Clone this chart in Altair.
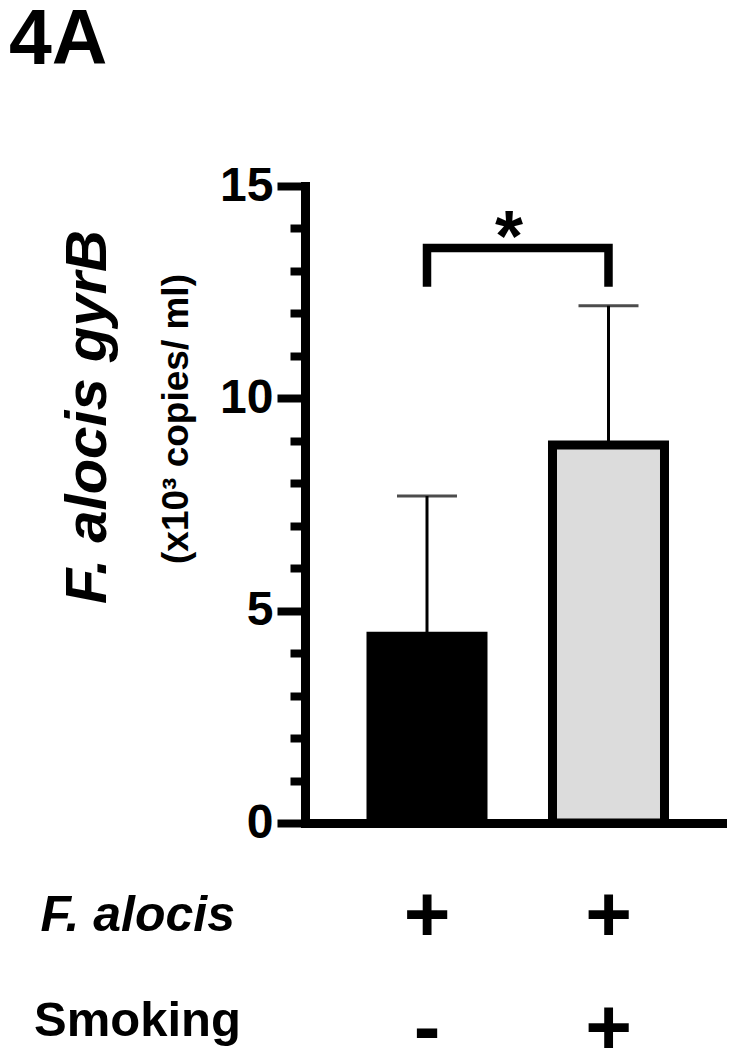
import altair as alt
import pandas as pd

# ---- data ----
groups = ["+|-", "+|+"]          # row 1: F. alocis, row 2: Smoking
means = [4.4, 8.9]
uppers = [7.7, 12.18]
bar_kind = ["no smoking", "smoking"]
bracket_groups = [groups[0], groups[0], groups[1], groups[1]]
bracket_vals = [12.63, 13.54, 13.54, 12.63]
bracket_order = [0, 1, 2, 3]
sig_text = ["*"]
y_tick_values = list(range(0, 16))

panel_label = ["4A"]
y_title = "F. alocis gyrB"
y_subtitle = ["(x10³ copies/ ml)"]
row_label_1 = "F. alocis"
row_label_2 = ["Smoking"]

BOLD = "Liberation Sans"

df = pd.DataFrame({"group": groups, "mean": means, "upper": uppers, "kind": bar_kind})
br = pd.DataFrame({"group": bracket_groups, "y": bracket_vals, "order": bracket_order})
sig = pd.DataFrame({"group": [groups[0]], "y": [bracket_vals[1]], "t": sig_text})

x_scale = alt.Scale(domain=groups, paddingInner=0.3829, paddingOuter=0.354,
                    align=0.5136, round=False)
y_scale = alt.Scale(domain=[0, 15], nice=False, zero=True)

x_axis = alt.Axis(
    domain=True, domainColor="black", domainWidth=9, domainCap="square",
    ticks=False, grid=False,
    labelExpr="split(datum.label, '|')", labelAngle=0,
    labelFont=BOLD, labelFontWeight="bold", labelFontSize=80, labelColor="black",
    labelLineHeight=113, labelBaseline="alphabetic", labelPadding=117,
    labelOverlap=False,
    title=row_label_1, titleFont=BOLD, titleFontWeight="bold", titleFontStyle="italic",
    titleFontSize=50, titleColor="black", titleX=-265, titleY=107,
    titleAlign="left", titleBaseline="alphabetic", titleAngle=0,
)

y_axis = alt.Axis(
    values=y_tick_values, grid=False,
    domain=True, domainColor="black", domainWidth=9, domainCap="square",
    ticks=True, tickColor="black", tickWidth=8, tickCap="butt",
    tickSize={"condition": {"test": "datum.value % 5 === 0", "value": 28}, "value": 15},
    labelExpr="datum.value % 5 === 0 ? datum.label : ''",
    labelFont=BOLD, labelFontWeight="bold", labelFontSize=48, labelColor="black",
    labelPadding=4, labelBaseline="middle",
    title=y_title, titleFont=BOLD, titleFontWeight="bold", titleFontStyle="italic",
    titleFontSize=58, titleColor="black", titleAngle=270, titleX=-200, titleY=230.5,
    titleAlign="center", titleBaseline="alphabetic",
)

base = alt.Chart(df)

bars = base.mark_bar(stroke="black", strokeWidth=9).encode(
    x=alt.X("group:N", scale=x_scale, sort=groups, axis=x_axis),
    y=alt.Y("mean:Q", scale=y_scale, axis=y_axis),
    fill=alt.Fill("kind:N", scale=alt.Scale(domain=bar_kind, range=["#000000", "#dcdcdc"]),
                  legend=None),
)

err_line = base.mark_rule(color="black", strokeWidth=3).encode(
    x=alt.X("group:N", scale=x_scale, sort=groups),
    y=alt.Y("mean:Q", scale=y_scale),
    y2="upper:Q",
)

err_cap = base.mark_tick(color="black", size=60, thickness=3).encode(
    x=alt.X("group:N", scale=x_scale, sort=groups),
    y=alt.Y("upper:Q", scale=y_scale),
)

bracket = alt.Chart(br).mark_line(color="black", strokeWidth=8.5,
                                   strokeJoin="miter", strokeCap="butt").encode(
    x=alt.X("group:N", scale=x_scale, sort=groups),
    y=alt.Y("y:Q", scale=y_scale),
    order=alt.Order("order:Q"),
)

star = alt.Chart(sig).mark_text(font=BOLD, fontWeight="bold", fontSize=72, color="black",
                                align="center", baseline="alphabetic", dx=82, dy=13).encode(
    x=alt.X("group:N", scale=x_scale, sort=groups),
    y=alt.Y("y:Q", scale=y_scale),
    text="t:N",
)

panel = alt.Chart(pd.DataFrame({"t": panel_label})).mark_text(
    font=BOLD, fontWeight="bold", fontSize=77, color="black",
    align="left", baseline="alphabetic").encode(
    x=alt.value(-296), y=alt.value(-122), text="t:N")

subtitle = alt.Chart(pd.DataFrame({"t": y_subtitle})).mark_text(
    font=BOLD, fontWeight="bold", fontSize=37, color="black",
    align="center", baseline="alphabetic", angle=270).encode(
    x=alt.value(-117), y=alt.value(233), text="t:N")

smoking = alt.Chart(pd.DataFrame({"t": row_label_2})).mark_text(
    font=BOLD, fontWeight="bold", fontSize=49, color="black",
    align="left", baseline="alphabetic").encode(
    x=alt.value(-271), y=alt.value(850), text="t:N")

chart = alt.layer(bars, err_line, err_cap, bracket, star, panel, subtitle, smoking).properties(
    width=422, height=637,
    autosize=alt.AutoSizeParams(type="none"),
    padding={"left": 297, "top": 178, "right": 0, "bottom": 227},
    background="white",
).configure_view(strokeWidth=0)

chart.save("out.html", embed_options={"renderer": "svg", "actions": False})
